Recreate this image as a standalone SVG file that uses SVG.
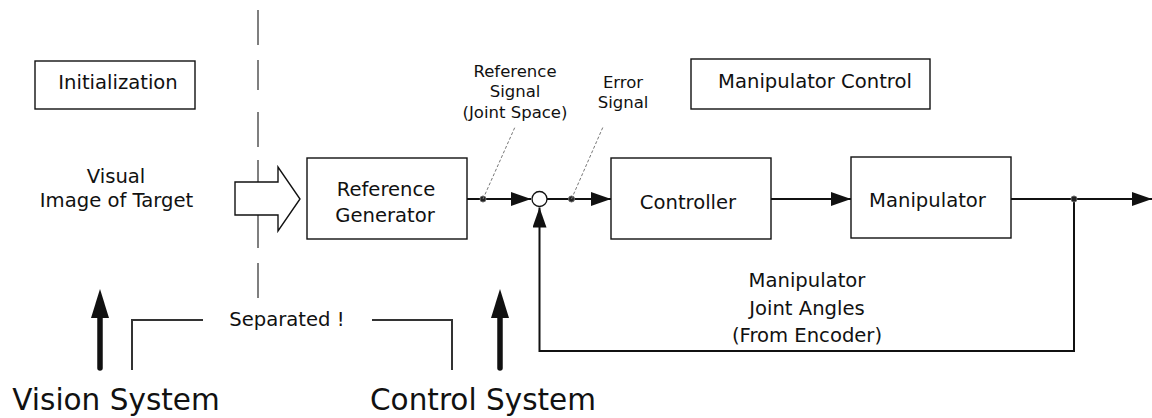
<svg xmlns="http://www.w3.org/2000/svg" width="1152" height="418" viewBox="0 0 1152 418">
  <style>
    .box { fill: #fff; stroke: #111; stroke-width: 1.4; }
    .t { font-family: "DejaVu Sans", "Liberation Sans", sans-serif; fill: #111; text-anchor: middle; }
    .m { font-size: 19.6px; }
    .s { font-size: 16.5px; }
    .big { font-size: 29.5px; }
    .wire { fill: none; stroke: #111; stroke-width: 2; }
    .lead { fill: none; stroke: #777; stroke-width: 1; stroke-dasharray: 3 2; }
    .dot { fill: #222; stroke: #666; stroke-width: 1; }
  </style>
  <defs>
    <marker id="ah" markerUnits="userSpaceOnUse" markerWidth="20" markerHeight="14" viewBox="0 0 20 14" refX="20" refY="7" orient="auto">
      <path d="M0,0 L20,7 L0,14 z" fill="#111"/>
    </marker>
  </defs>

  <rect width="1152" height="418" fill="#fff"/>

  <!-- vision / control separation line -->
  <path id="divider" d="M258 10 V45 M258 60 V90 M258 112 V147 M258 160 V182 M258 215 V248 M258 263 V298" fill="none" stroke="#555" stroke-width="1.5"/>

  <g id="initialization">
    <rect class="box" x="35" y="61" width="160" height="48"/>
    <text class="t m" x="118" y="89">Initialization</text>
  </g>

  <g id="manipulator-control">
    <rect class="box" x="691" y="59" width="239" height="50"/>
    <text class="t m" x="815" y="88">Manipulator Control</text>
  </g>

  <g id="visual-image">
    <text class="t m" x="116" y="183">Visual</text>
    <text class="t m" x="116.5" y="207">Image of Target</text>
  </g>

  <g id="image-arrow">
    <polygon points="235,182 278,182 278,167 300,199 278,231 278,215 235,215" fill="#fff" stroke="#111" stroke-width="1.4" stroke-linejoin="miter"/>
  </g>

  <g id="reference-generator">
    <rect class="box" x="307" y="158" width="160" height="81"/>
    <text class="t m" x="386" y="196">Reference</text>
    <text class="t m" x="385" y="222">Generator</text>
  </g>

  <g id="summing-junction">
    <circle cx="539.5" cy="199" r="7.5" fill="#fff" stroke="#111" stroke-width="1.3"/>
  </g>

  <g id="controller">
    <rect class="box" x="611" y="158" width="160" height="81"/>
    <text class="t m" x="688" y="209">Controller</text>
  </g>

  <g id="manipulator">
    <rect class="box" x="851" y="157" width="160" height="81"/>
    <text class="t m" x="927.5" y="207">Manipulator</text>
  </g>

  <g id="connectors">
    <path class="wire" d="M467 199 H531" marker-end="url(#ah)"/>
    <path class="wire" d="M547 199 H611" marker-end="url(#ah)"/>
    <path class="wire" d="M771 199 H851" marker-end="url(#ah)"/>
    <path class="wire" d="M1011 199 H1152" marker-end="url(#ah)"/>
    <path class="wire" d="M1074 199 V351 H539.5 V207.5" marker-end="url(#ah)"/>
    <circle class="dot" cx="483" cy="199" r="3"/>
    <circle class="dot" cx="571.5" cy="199" r="3"/>
    <circle class="dot" cx="1074" cy="199" r="3"/>
    <path class="lead" d="M483 199 L515 127"/>
    <path class="lead" d="M571.5 199 L603 127"/>
  </g>

  <g id="reference-signal-label">
    <text class="t s" x="515" y="77">Reference</text>
    <text class="t s" x="515" y="97">Signal</text>
    <text class="t s" x="515" y="118">(Joint Space)</text>
  </g>

  <g id="error-signal-label">
    <text class="t s" x="623" y="88">Error</text>
    <text class="t s" x="623" y="108">Signal</text>
  </g>

  <g id="feedback-label">
    <text class="t m" x="807" y="287">Manipulator</text>
    <text class="t m" x="807" y="315">Joint Angles</text>
    <text class="t m" x="807" y="342">(From Encoder)</text>
  </g>

  <g id="separation">
    <path d="M132 370 V320 H203 M372 320 H452 V370" fill="none" stroke="#333" stroke-width="2"/>
    <text class="t m" x="287" y="326">Separated !</text>
  </g>

  <g id="vision-system">
    <line x1="100" y1="368" x2="100" y2="312" stroke="#111" stroke-width="5.5" stroke-linecap="round"/>
    <polygon points="100,289 91,318 109,318" fill="#111"/>
    <text class="t big" x="116" y="410">Vision System</text>
  </g>

  <g id="control-system">
    <line x1="500" y1="368" x2="500" y2="312" stroke="#111" stroke-width="5.5" stroke-linecap="round"/>
    <polygon points="500,289 491,318 509,318" fill="#111"/>
    <text class="t big" x="483" y="410">Control System</text>
  </g>
</svg>
